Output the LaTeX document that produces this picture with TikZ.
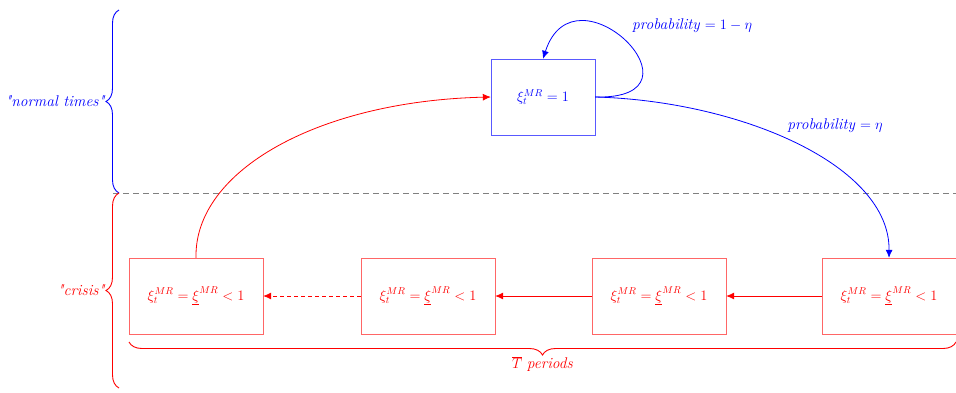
\documentclass[tikz,border=0pt]{standalone}
\usepackage{fontspec}
\usetikzlibrary{decorations.pathreplacing,arrows.meta}
\begin{document}
\begin{tikzpicture}[x=1pt,y=-1pt,
  font=\fontsize{14}{16}\selectfont,
  lbl/.style={font=\fontsize{15.5}{18}\selectfont,inner sep=0pt},
  topbox/.style={draw=blue!65,text=blue,minimum width=104pt,minimum height=76pt,inner sep=0pt},
  crisisbox/.style={draw=red!60,text=red,minimum width=134pt,minimum height=76pt,inner sep=0pt},
  arr/.style={-{Latex[length=8pt,width=7pt]},line width=0.8pt},
  brc/.style={decorate,decoration={brace,amplitude=13pt,aspect=0.5},line width=0.9pt}]
\useasboundingbox (0,0) rectangle (956,392);
\node[topbox] (top) at (543,97) {$\xi_t^{MR}=1$};
\node[crisisbox] (b1) at (196,296) {$\xi_t^{MR}=\underline{\xi}^{MR}<1$};
\node[crisisbox] (b2) at (428,296) {$\xi_t^{MR}=\underline{\xi}^{MR}<1$};
\node[crisisbox] (b3) at (659,296) {$\xi_t^{MR}=\underline{\xi}^{MR}<1$};
\node[crisisbox] (b4) at (889,296) {$\xi_t^{MR}=\underline{\xi}^{MR}<1$};
% dashed separator
\coordinate (sepL) at (113,193);
\coordinate (sepR) at (956,193);
\draw[gray,line width=0.8pt,dash pattern=on 6pt off 4pt] (sepL) -- (sepR);
% left braces
\coordinate (nb1) at (119,193);
\coordinate (nb2) at (119,10);
\coordinate (cb1) at (119,388);
\coordinate (cb2) at (119,193);
\draw[brc,blue] (nb1) -- (nb2) node[midway,left=13pt,inner sep=1pt,lbl] (nt) {\textit{\textquotedbl normal times\textquotedbl}};
\draw[brc,red] (cb1) -- (cb2) node[midway,left=13pt,inner sep=1pt,lbl] (cr) {\textit{\textquotedbl crisis\textquotedbl}};
% bottom brace
\coordinate (tb1) at (956,342);
\coordinate (tb2) at (129,342);
\draw[brc,red] (tb1) -- (tb2) node[midway,below=14pt,inner sep=1pt,lbl] (tp) {$\overline{T}$ \textit{periods}};
% self loop
\draw[arr,blue] (top.east) .. controls (715,100) and (575,-40) .. (top.north);
\node[lbl,blue,anchor=west] (pl) at (632,26) {\textit{probability} $=1-\eta$};
% blue transition
\draw[arr,blue] (top.east) .. controls (740,101) and (890,165) .. (b4.north);
\node[lbl,blue] (pe) at (835,126) {\textit{probability} $=\eta$};
% red return
\draw[arr,red] (b1.north) .. controls (194,170) and (320,101) .. (top.west);
% chain
\draw[arr,red] (b4.west) -- (b3.east);
\draw[arr,red] (b3.west) -- (b2.east);
\draw[arr,red,dash pattern=on 4pt off 3pt] (b2.west) -- (b1.east);
\end{tikzpicture}
\end{document}
